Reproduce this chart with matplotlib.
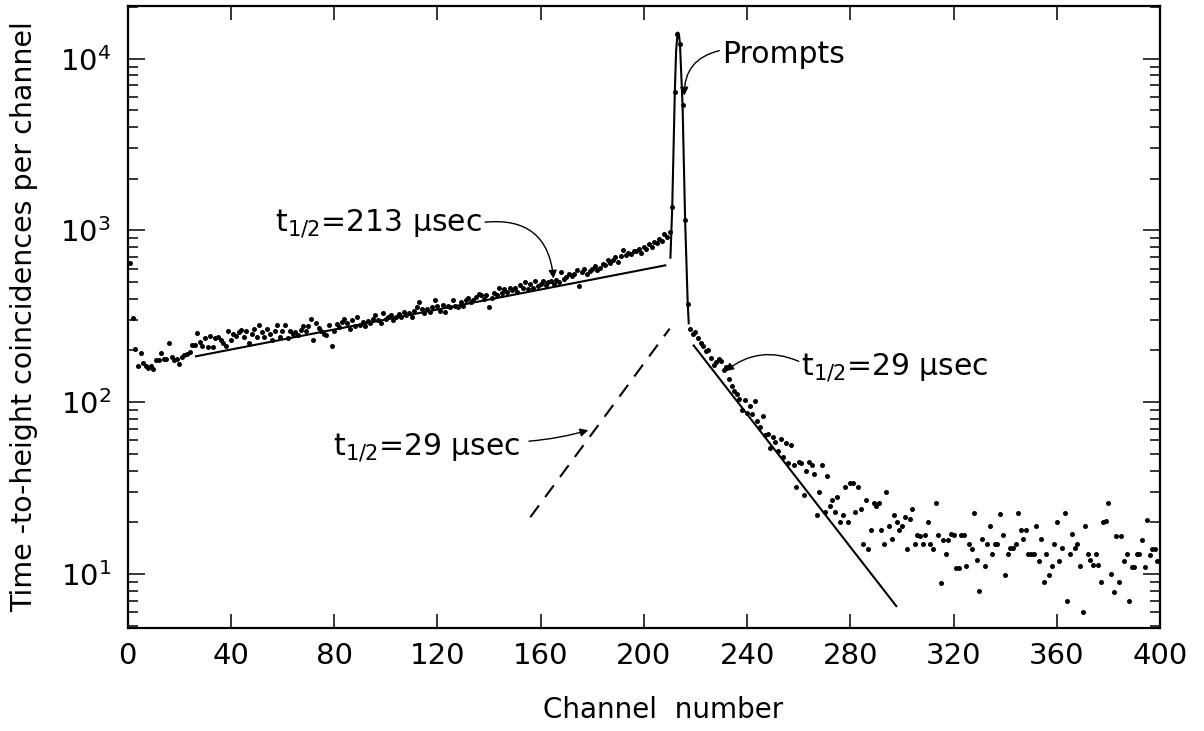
import numpy as np
import matplotlib
matplotlib.use("Agg")
import matplotlib.pyplot as plt

plt.rcParams['font.family'] = ['DejaVu Sans']
plt.rcParams['mathtext.default'] = 'regular'

# counts per channel
# left part: channels 1..210 (slow 213 usec component)
left_counts = [
    646, 309, 204, 163, 193, 170, 162, 159, 163, 155,
    176, 175, 194, 178, 178, 222, 183, 175, 178, 166,
    183, 188, 192, 196, 214, 214, 253, 225, 211, 235,
    209, 242, 209, 235, 240, 229, 220, 211, 259, 229,
    250, 244, 256, 263, 240, 261, 220, 250, 268, 239,
    280, 256, 239, 268, 250, 229, 261, 283, 239, 261,
    280, 235, 259, 250, 256, 245, 262, 276, 261, 276,
    305, 229, 288, 270, 261, 250, 245, 280, 211, 261,
    285, 275, 292, 305, 288, 268, 300, 278, 314, 283,
    294, 278, 296, 288, 306, 322, 300, 290, 330, 306,
    314, 322, 300, 314, 326, 314, 335, 322, 330, 314,
    340, 358, 385, 350, 330, 350, 335, 358, 393, 362,
    340, 370, 335, 362, 358, 393, 362, 358, 385, 362,
    393, 405, 385, 393, 412, 428, 420, 398, 420, 358,
    405, 433, 420, 464, 433, 456, 440, 464, 448, 464,
    440, 478, 464, 500, 456, 488, 464, 510, 472, 488,
    510, 478, 500, 510, 488, 514, 500, 574, 520, 535,
    558, 545, 560, 585, 472, 574, 600, 558, 580, 600,
    617, 585, 604, 640, 626, 670, 645, 675, 700, 655,
    710, 765, 720, 742, 730, 756, 760, 782, 735, 800,
    780, 830, 800, 855, 840, 890, 870, 955, 915, 985,
]
# prompt peak: channels 211..217
peak_counts = [1368, 6370, 14000, 12170, 5380, 1143, 375]
# tail: channels 218..399
tail_counts = [
    268, 250, 256, 235, 220, 213, 198, 200, 182, 164,
    172, 179, 174, 154, 160, 137, 124, 116, 112, 105,
    90, 103, 86, 95, 85, 101, 78, 72, 83, 64,
    65, 54, 63, 59, 52, 61, 48, 58, 44, 56,
    43, 32, 45, 44, 29, 40, 45, 43, 38, 22,
    30, 43, 23, 37, 25, 27, 23, 28, 20, 22,
    32, 20, 34, 34, 23, 32, 24, 15, 27, 14,
    18, 26, 25, 26, 18, 15, 30, 19, 16, 22,
    20, 18, 19,
    21.6, 14.0, 20.9, 24.0, 15.0, 16.8, 16.6, 15.0, 16.8, 20.0,
    15.0, 13.9, 25.9, 16.8, 8.8, 15.8, 13.0, 15.8, 17.0, 16.8,
    10.9, 10.9, 16.8, 16.8, 11.1, 15.0, 14.0, 22.6, 12.1, 8.0,
    15.9, 11.1, 15.0, 19.0, 13.1, 15.0, 15.0, 22.3, 16.8, 9.8,
    13.1, 14.1, 14.1, 15.0, 22.7, 18.1, 16.0, 18.0, 13.1, 13.1,
    13.1, 19.0, 11.9, 15.9, 9.0, 13.1, 9.9, 11.1, 15.0, 20.2,
    11.9, 14.2, 22.7, 7.0, 13.1, 17.0, 14.2, 15.0, 11.1, 6.0,
    19.0, 13.1, 12.1, 11.2, 13.1, 11.2, 9.0, 20.0, 20.3, 25.9,
    10.0, 7.8, 16.7, 9.0, 16.7, 11.9, 13.1, 7.0, 11.0, 11.0,
    13.1, 13.0, 15.7, 11.0, 20.5, 12.9, 14.0, 14.0, 11.9,
]
left_ch = np.arange(1, 1 + len(left_counts))
peak_ch = np.arange(211, 211 + len(peak_counts))
tail_ch = np.arange(218, 218 + len(tail_counts))

# hand drawn curve through the prompt peak
peak_line_x = [210.3, 211, 212, 212.5, 213.1, 213.6, 214, 215, 216, 217, 217.4]
peak_line_y = [694, 1368, 6370, 11100, 14200, 13900, 12170, 5380, 1143, 375, 288]

# fitted lines
slow_x = [26.5, 208.3]
slow_y = [185, 626]
fast_x = [219.3, 297.8]
fast_y = [214, 6.5]
dash_x = [156, 210]
dash_y = [21.4, 268]

fig = plt.figure(figsize=(12.04, 7.31), dpi=100)
ax = fig.add_axes([0.106, 0.141, 0.8575, 0.851])

dot = dict(ls='none', marker='o', ms=3.6, color='black', mec='none')
ax.plot(left_ch, left_counts, **dot)
ax.plot(peak_ch, peak_counts, **dot)
ax.plot(tail_ch, tail_counts, **dot)

ax.plot(peak_line_x, peak_line_y, color='black', lw=1.5)
ax.plot(slow_x, slow_y, color='black', lw=1.5)
ax.plot(fast_x, fast_y, color='black', lw=1.5)
ax.plot(dash_x, dash_y, color='black', lw=1.5, dashes=(7, 5))

ax.set_yscale('log')
ax.set_xlim(0, 400)
ax.set_ylim(4.85, 2.03e4)
ax.set_xticks(np.arange(0, 401, 40))

for s in ax.spines.values():
    s.set_linewidth(1.6)
ax.tick_params(which='both', direction='in', top=True, right=True, width=1.1,
               labelsize=21, pad=12)
ax.tick_params(axis='x', which='major', length=10, pad=10)
ax.tick_params(axis='y', which='major', length=12)
ax.tick_params(axis='y', which='minor', length=7)
ax.tick_params(axis='x', which='minor', bottom=False, top=False)

ax.set_xlabel("Channel  number", fontsize=20)
ax.xaxis.set_label_coords(0.519, -0.11)
ax.set_ylabel("Time -to-height coincidences per channel", fontsize=20.5, labelpad=16)

fs = 21.5
ax.text(57.2, 1000, r"$t_{1/2}$=213 $\mu$sec", fontsize=fs, va='baseline')
ax.text(230.4, 9480, "Prompts", fontsize=fs, va='baseline')
ax.text(260.7, 145.6, r"$t_{1/2}$=29 $\mu$sec", fontsize=fs, va='baseline')
ax.text(79.7, 49.9, r"$t_{1/2}$=29 $\mu$sec", fontsize=fs, va='baseline')

arrow = dict(arrowstyle='-|>', color='black', lw=1.0, shrinkA=0, shrinkB=0,
             mutation_scale=12)
ax.annotate("", xy=(165.0, 524), xytext=(138.5, 1117),
            arrowprops=dict(arrow, connectionstyle="arc3,rad=-0.5"))
ax.annotate("", xy=(215.7, 6100), xytext=(229.2, 11130),
            arrowprops=dict(arrow, connectionstyle="arc3,rad=0.4"))
ax.annotate("", xy=(231.6, 151.4), xytext=(260.0, 173),
            arrowprops=dict(arrow, connectionstyle="arc3,rad=0.3"))
ax.annotate("", xy=(178.5, 68.7), xytext=(155.5, 59.3),
            arrowprops=dict(arrow, connectionstyle="arc3,rad=0.05"))

fig.savefig("out.png", dpi=100)
